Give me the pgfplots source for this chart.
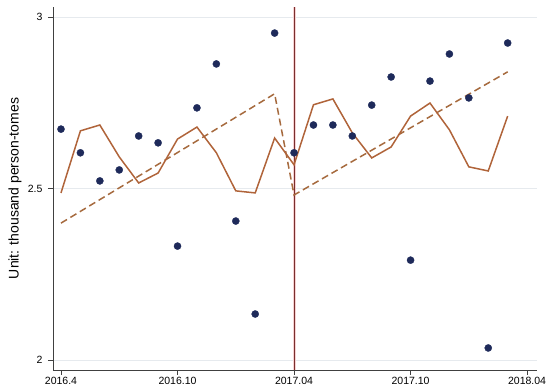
\documentclass[border=0pt]{standalone}
\usepackage{pgfplots}
\pgfplotsset{compat=1.18}
\usepackage{fontspec}
\setmainfont{Liberation Sans}
\definecolor{dotc}{HTML}{1E2A5A}
\definecolor{linec}{HTML}{B0643A}
\definecolor{dashc}{HTML}{A66A3E}
\definecolor{vlc}{HTML}{7A2E2E}
\definecolor{vlh}{HTML}{F6D2D2}
\definecolor{gridc}{HTML}{E6EAEE}
\begin{document}
\begin{tikzpicture}
\begin{axis}[name=ax, scale only axis, width=484pt, height=363pt,
 xmin=-0.412, xmax=24.51, ymin=1.9708, ymax=3.029,
 axis x line*=bottom, axis y line*=left,
 axis line style={draw=black!75, line width=0.8pt},
 xtick={0,6,12,18,24}, xticklabels={2016.4,2016.10,2017.04,2017.10,2018.04},
 ytick={2,2.5,3}, yticklabels={2,2.5,3},
 tick align=outside, major tick length=5pt, tick style={black!75, line width=0.8pt},
 ymajorgrids, grid style={gridc, line width=0.8pt},
 ticklabel style={font=\fontsize{10.5}{12}\selectfont, text=black},
 yticklabel style={xshift=-2pt},
 xticklabel style={yshift=1pt},
 ylabel={Unit: thousand person-tomes},
 ylabel style={font=\fontsize{14}{16}\selectfont, at={(axis description cs:0,0.5)}, anchor=center, yshift=38pt},
 clip=false]
\addplot[vlh, line width=3pt, forget plot] coordinates {(12,1.9708)(12,3.029)};
\addplot[vlc, line width=1pt] coordinates {(12,1.9708)(12,3.029)};
\addplot[dashc, line width=1.5pt, dash pattern=on 7pt off 4pt] coordinates {(0,2.399)(11,2.776)(12,2.481)(23,2.840)};
\addplot[linec, line width=1.5pt] coordinates {
(0,2.487)(1,2.668)(2,2.685)(3,2.592)(4,2.516)(5,2.545)(6,2.644)(7,2.679)(8,2.604)(9,2.493)(10,2.487)(11,2.647)
(12,2.569)(13,2.744)(14,2.761)(15,2.662)(16,2.589)(17,2.621)(18,2.711)(19,2.749)(20,2.671)(21,2.563)(22,2.551)(23,2.711)};
\addplot[only marks, mark=*, mark size=3.6pt, mark options={fill=dotc, draw=dotc, line width=0.3pt}] coordinates {
(0,2.673)(1,2.604)(2,2.522)(3,2.554)(4,2.653)(5,2.633)(6,2.332)(7,2.735)(8,2.863)(9,2.405)(10,2.134)(11,2.953)
(12,2.604)(13,2.685)(14,2.685)(15,2.653)(16,2.743)(17,2.825)(18,2.291)(19,2.813)(20,2.892)(21,2.764)(22,2.035)(23,2.924)};
\end{axis}
\path ([shift={(-53pt,-16pt)}]ax.south west) rectangle ([shift={(13pt,7pt)}]ax.north east);
\end{tikzpicture}
\end{document}
